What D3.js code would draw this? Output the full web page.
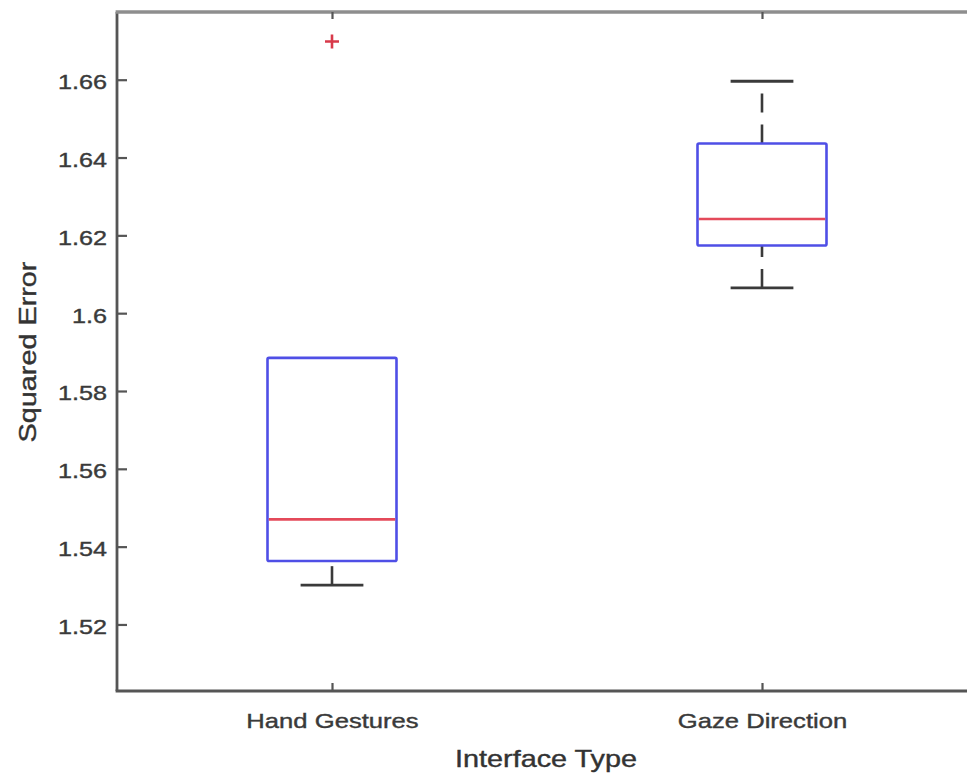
<!DOCTYPE html>
<html>
<head>
<meta charset="utf-8">
<script src="https://cdn.jsdelivr.net/npm/d3@7"></script>
<style>
  html, body { margin: 0; padding: 0; background: #fff; overflow: hidden; }
  svg { display: block; }
  text { font-family: "Liberation Sans", Arial, Helvetica, sans-serif; }
</style>
</head>
<body>
<svg id="chart" width="967" height="777"></svg>
<script>
// Groups along the x axis
const categories = ["Hand Gestures", "Gaze Direction"];

// Box statistics per group
const lowerWhisker = [1.5301, 1.6065];
const q1Values     = [1.5363, 1.6174];
const medians      = [1.5470, 1.6242];
const q3Values     = [1.5885, 1.6436];
const upperWhisker = [1.5885, 1.6596];

// Points beyond the whiskers: [group index, value]
const outliers = [[0, 1.6698]];

// Y tick labels
const yTicks = [1.52, 1.54, 1.56, 1.58, 1.6, 1.62, 1.64, 1.66];
const yDomain = [1.5029, 1.6774];

const svg = d3.select("#chart");

const plotLeft = 117, plotRight = 977, plotTop = 12, plotBottom = 691;

const x = d3.scaleLinear().domain([0.5, categories.length + 0.5]).range([plotLeft, plotRight]);
const y = d3.scaleLinear().domain(yDomain).range([plotBottom, plotTop]);

const boxHalf = 0.15, capHalf = 0.073;
const boxColor = "#4f4fe6", medColor = "#e44a5a", whiskColor = "#3a3a3a";
const textColor = "#3a3a3a";

// widen text glyphs along their baseline
function stretch(sel, k) {
  sel.each(function () {
    const len = this.getComputedTextLength();
    d3.select(this).attr("textLength", len * k).attr("lengthAdjust", "spacingAndGlyphs");
  });
}

const groups = categories.map((c, i) => ({
  name: c, pos: i + 1,
  lw: lowerWhisker[i], q1: q1Values[i], med: medians[i], q3: q3Values[i], uw: upperWhisker[i]
}));

const plot = svg.append("g");

// whiskers (dashed, drawn from lower value to higher value) and their caps
groups.forEach(g => {
  [[g.q3, g.uw], [g.lw, g.q1]].forEach(([lo, hi]) => {
    if (hi <= lo) return; // whisker collapsed onto the box edge
    plot.append("line")
      .attr("x1", x(g.pos)).attr("x2", x(g.pos))
      .attr("y1", y(lo)).attr("y2", y(hi))
      .attr("stroke", whiskColor).attr("stroke-width", 2.6)
      .attr("stroke-dasharray", "19 12");
  });
  if (g.uw > g.q3) {
    plot.append("line")
      .attr("x1", x(g.pos - capHalf)).attr("x2", x(g.pos + capHalf))
      .attr("y1", y(g.uw)).attr("y2", y(g.uw))
      .attr("stroke", whiskColor).attr("stroke-width", 2.8);
  }
  if (g.lw < g.q1) {
    plot.append("line")
      .attr("x1", x(g.pos - capHalf)).attr("x2", x(g.pos + capHalf))
      .attr("y1", y(g.lw)).attr("y2", y(g.lw))
      .attr("stroke", whiskColor).attr("stroke-width", 2.8);
  }
});

// boxes
plot.selectAll("rect.box").data(groups).join("rect")
  .attr("class", "box")
  .attr("x", d => x(d.pos - boxHalf))
  .attr("width", d => x(d.pos + boxHalf) - x(d.pos - boxHalf))
  .attr("y", d => y(d.q3))
  .attr("height", d => y(d.q1) - y(d.q3))
  .attr("fill", "none")
  .attr("stroke", boxColor).attr("stroke-width", 2.6)
  .attr("rx", 1.5);

// medians
plot.selectAll("line.med").data(groups).join("line")
  .attr("class", "med")
  .attr("x1", d => x(d.pos - boxHalf) + 1.3).attr("x2", d => x(d.pos + boxHalf) - 1.3)
  .attr("y1", d => y(d.med)).attr("y2", d => y(d.med))
  .attr("stroke", medColor).attr("stroke-width", 2.6);

// outliers as '+' markers
outliers.forEach(([gi, v]) => {
  const cx = x(gi + 1), cy = y(v), s = 7;
  plot.append("path")
    .attr("d", `M${cx - s},${cy}H${cx + s}M${cx},${cy - s}V${cy + s}`)
    .attr("stroke", "#d83a4a").attr("stroke-width", 2.6).attr("fill", "none");
});

// axes frame
const axisColor = "#555";
svg.append("line").attr("x1", plotLeft).attr("x2", plotLeft).attr("y1", plotTop).attr("y2", plotBottom)
  .attr("stroke", axisColor).attr("stroke-width", 2.8);
svg.append("line").attr("x1", plotLeft - 1.4).attr("x2", plotRight).attr("y1", plotBottom).attr("y2", plotBottom)
  .attr("stroke", axisColor).attr("stroke-width", 2.8);
svg.append("line").attr("x1", plotLeft - 1.4).attr("x2", plotRight).attr("y1", plotTop).attr("y2", plotTop)
  .attr("stroke", "#8e8e8e").attr("stroke-width", 3.4);
svg.append("line").attr("x1", plotRight).attr("x2", plotRight).attr("y1", plotTop).attr("y2", plotBottom)
  .attr("stroke", axisColor).attr("stroke-width", 2.8);

// y axis ticks and labels (left)
const yAxis = d3.axisLeft(y).tickValues(yTicks).tickSize(-10).tickPadding(10)
  .tickFormat(d => d3.format("")(d));
const gy = svg.append("g").attr("transform", `translate(${plotLeft},0)`).call(yAxis);
gy.select(".domain").remove();
gy.selectAll(".tick line").attr("stroke", axisColor).attr("stroke-width", 2.2);
gy.selectAll(".tick text")
  .attr("fill", textColor).attr("stroke", textColor).attr("stroke-width", 0.4)
  .attr("font-size", 21).attr("dy", "0.42em")
  .call(stretch, 1.2);

// right-side ticks
const gyr = svg.append("g").attr("transform", `translate(${plotRight},0)`)
  .call(d3.axisRight(y).tickValues(yTicks).tickSize(-10).tickFormat(""));
gyr.select(".domain").remove();
gyr.selectAll(".tick line").attr("stroke", axisColor).attr("stroke-width", 2.2);

// x axis ticks and labels
const xAxis = d3.axisBottom(x).tickValues(groups.map(g => g.pos)).tickSize(-8).tickPadding(22)
  .tickFormat((d, i) => categories[i]);
const gx = svg.append("g").attr("transform", `translate(0,${plotBottom})`).call(xAxis);
gx.select(".domain").remove();
gx.selectAll(".tick line").attr("stroke", axisColor).attr("stroke-width", 2.2);
gx.selectAll(".tick text")
  .attr("fill", textColor).attr("stroke", textColor).attr("stroke-width", 0.4)
  .attr("font-size", 21)
  .call(stretch, 1.22);

// top ticks
const gxt = svg.append("g").attr("transform", `translate(0,${plotTop})`)
  .call(d3.axisTop(x).tickValues(groups.map(g => g.pos)).tickSize(-7).tickFormat(""));
gxt.select(".domain").remove();
gxt.selectAll(".tick line").attr("stroke", axisColor).attr("stroke-width", 2.2);

// axis titles
svg.append("text")
  .attr("x", 546).attr("y", 767)
  .attr("text-anchor", "middle").attr("font-size", 24)
  .attr("fill", "#333").attr("stroke", "#333").attr("stroke-width", 0.4)
  .text("Interface Type")
  .call(stretch, 1.2);

svg.append("text")
  .attr("transform", "translate(36,352) rotate(-90)")
  .attr("text-anchor", "middle").attr("font-size", 24)
  .attr("fill", "#333").attr("stroke", "#333").attr("stroke-width", 0.4)
  .text("Squared Error")
  .call(stretch, 1.2);
</script>
</body>
</html>
